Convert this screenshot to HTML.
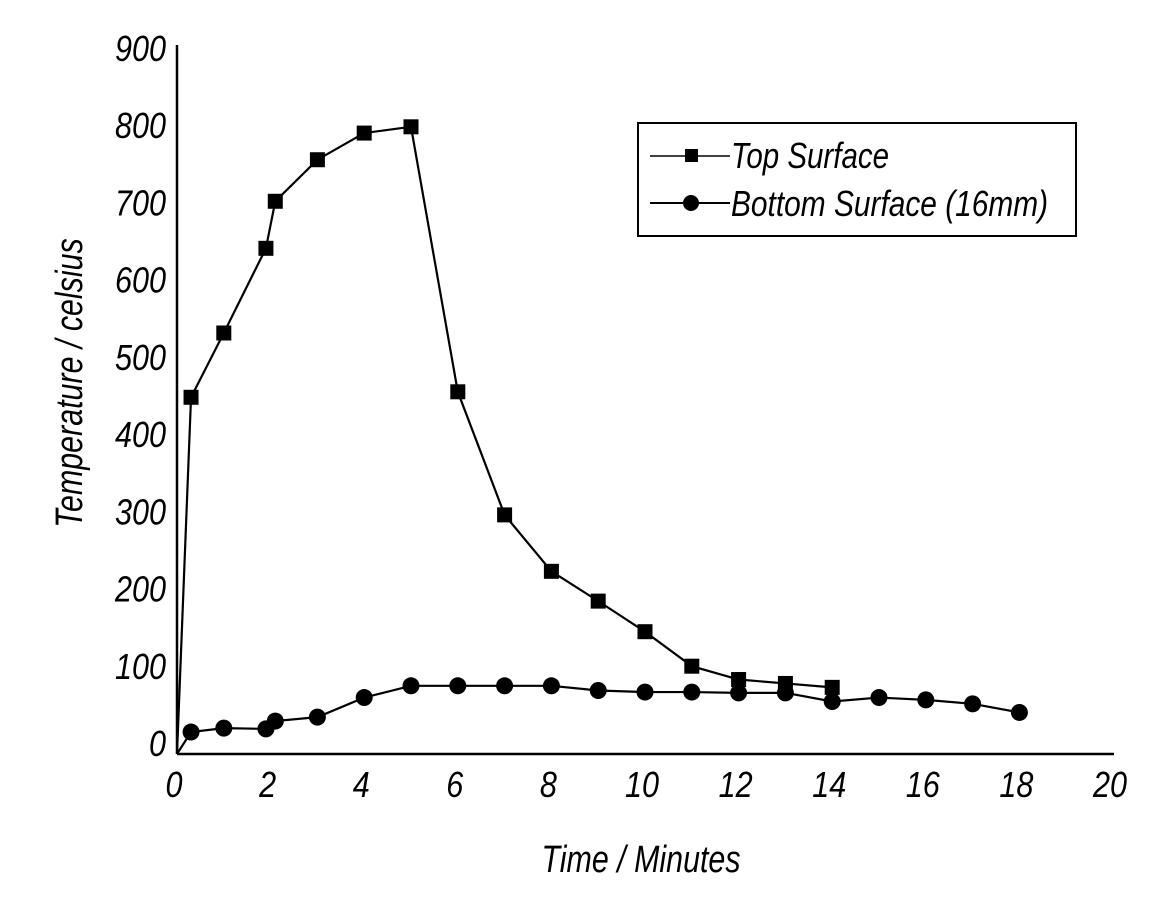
<!DOCTYPE html>
<html><head><meta charset="utf-8"><style>
html,body{margin:0;padding:0;background:#fff;}
svg{display:block;}
text{font-family:"Liberation Sans Narrow","Liberation Sans",sans-serif;font-style:italic;fill:#000;}
</style></head><body>
<svg id="chart" width="1162" height="912" xmlns="http://www.w3.org/2000/svg">
<g id="axes"></g>
<g id="series"></g>
<g>
<rect x="638" y="123" width="438" height="113" fill="#fff" stroke="#000" stroke-width="2"/>
<g>
<line x1="650" y1="156" x2="730" y2="156" stroke="#000" stroke-width="1.5"/>
<rect x="685" y="149" width="13" height="13" fill="#000"/>
<text transform="translate(731,168) scale(0.82,1)" font-size="36">Top Surface</text>
</g>
<g>
<line x1="650" y1="203" x2="730" y2="203" stroke="#000" stroke-width="2"/>
<circle cx="691" cy="203" r="8" fill="#000"/>
<text transform="translate(731,216) scale(0.83,1)" font-size="36">Bottom Surface (16mm)</text>
</g>
</g>
<text transform="translate(641,872) scale(0.8,1)" font-size="38" text-anchor="middle">Time / Minutes</text>
<text transform="translate(82,383) rotate(-90) scale(0.8,1)" font-size="38" text-anchor="middle">Temperature / celsius</text>
</svg>
<script>
const xTicks = [0,2,4,6,8,10,12,14,16,18,20];
const yTicks = [0,100,200,300,400,500,600,700,800,900];
const topX = [0,0.3,1,1.9,2.1,3,4,5,6,7,8,9,10,11,12,13,14];
const topY = [0,455,537,645,705,758,792,800,462,305,233,195,156,112,95,90,85];
const botX = [0,0.3,1,1.9,2.1,3,4,5,6,7,8,9,10,11,12,13,14,15,16,17,18];
const botY = [0,28,33,32,42,47,72,87,87,87,87,81,79,79,78,78,67,72,69,64,53];

const NS='http://www.w3.org/2000/svg';
const X0=177, XS=46.8, Y0=754, YS=0.784;
function sx(v){return X0+v*XS;}
function sy(v){return Y0-v*YS;}
function mk(tag,attrs,parent){const e=document.createElementNS(NS,tag);for(const k in attrs)e.setAttribute(k,attrs[k]);parent.appendChild(e);return e;}
const axes=document.getElementById('axes');
const series=document.getElementById('series');

let ya=mk('line',{x1:X0,y1:45,x2:X0,y2:Y0,stroke:'#000','stroke-width':2.5},axes);


let xa=mk('line',{x1:X0,y1:Y0,x2:1114,y2:Y0,stroke:'#000','stroke-width':2.5},axes);



xTicks.forEach(v=>{
  const t=mk('text',{transform:'translate('+(sx(v)-3)+',797) scale(0.85,1)','font-size':36,'text-anchor':'middle'},axes);
  t.textContent=v;
  
  
});
yTicks.forEach(v=>{
  const t=mk('text',{transform:'translate(166,'+(sy(v*0.985)+2)+') scale(0.85,1)','font-size':36,'text-anchor':'end'},axes);
  t.textContent=v;
  
  
});

function drawSeries(xs,ys,name,shape){
  const pts=xs.map((x,i)=>sx(x)+','+sy(ys[i])).join(' ');
  const l=mk('polyline',{points:pts,fill:'none',stroke:'#000','stroke-width':2.2},series);
  
  
  xs.forEach((x,i)=>{
    if(i===0)return;
    let m;
    if(shape==='square') m=mk('rect',{x:sx(x)-7.5,y:sy(ys[i])-7.5,width:15,height:15,fill:'#000'},series);
    else m=mk('circle',{cx:sx(x),cy:sy(ys[i]),r:8.5,fill:'#000'},series);
    
    
  });
}
drawSeries(botX,botY,'bottom-surface','circle');
drawSeries(topX,topY,'top-surface','square');
</script>
</body></html>
